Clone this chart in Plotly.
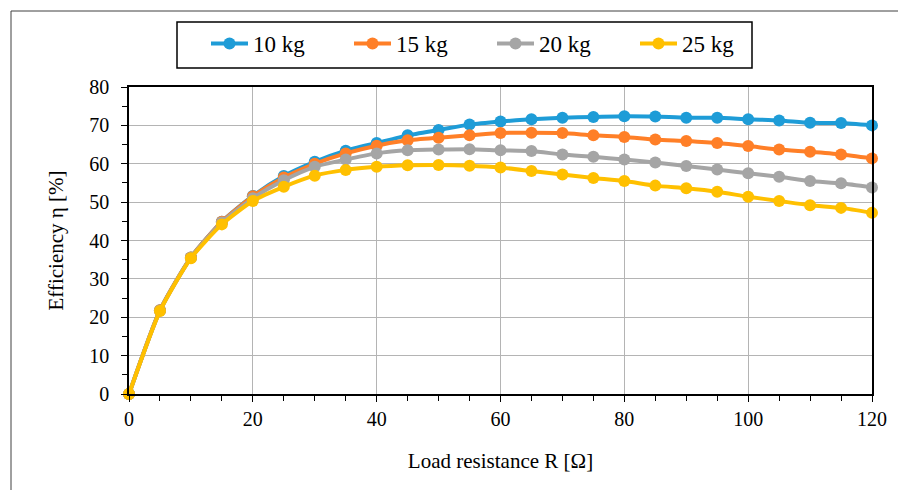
import plotly.graph_objects as go

resistance = [0, 5, 10, 15, 20, 25, 30, 35, 40, 45, 50, 55, 60, 65, 70, 75, 80, 85, 90, 95, 100, 105, 110, 115, 120]
eff_10kg = [0, 21.8, 35.6, 44.9, 51.6, 56.8, 60.5, 63.4, 65.4, 67.4, 68.8, 70.2, 71.0, 71.6, 72.0, 72.2, 72.4, 72.3, 72.0, 72.0, 71.6, 71.3, 70.7, 70.6, 70.0]
eff_15kg = [0, 21.8, 35.6, 44.9, 51.5, 56.4, 60.0, 62.7, 64.7, 66.1, 66.8, 67.4, 68.0, 68.1, 68.0, 67.4, 67.0, 66.3, 65.9, 65.4, 64.6, 63.7, 63.1, 62.4, 61.4]
eff_20kg = [0, 21.7, 35.5, 44.7, 51.0, 55.7, 59.2, 61.1, 62.7, 63.5, 63.7, 63.8, 63.5, 63.3, 62.4, 61.8, 61.1, 60.3, 59.4, 58.5, 57.5, 56.6, 55.5, 54.9, 53.8]
eff_25kg = [0, 21.6, 35.4, 44.2, 50.3, 54.0, 56.9, 58.4, 59.2, 59.6, 59.7, 59.5, 59.0, 58.1, 57.2, 56.3, 55.5, 54.3, 53.6, 52.7, 51.4, 50.3, 49.2, 48.5, 47.2]
series_names = ["10 kg", "15 kg", "20 kg", "25 kg"]
series_colors = ["#1E9CD7", "#FF7F27", "#A5A5A5", "#FFC000"]

fig = go.Figure()
for name, vals, col in zip(series_names, [eff_10kg, eff_15kg, eff_20kg, eff_25kg], series_colors):
    fig.add_trace(go.Scatter(
        x=resistance, y=vals, name=name, mode="lines+markers",
        line=dict(color=col, width=4, shape="spline", smoothing=0.6),
        marker=dict(color=col, size=12), cliponaxis=False,
    ))

OFF = 8  # page body margin
W, H = 906, 490
L, R, T, B = 129 - OFF, 42, 87 - OFF, 104
pw, ph = W - L - R, H - T - B
def px(x): return (x - OFF - L) / pw
def py(y): return (H - B - (y - OFF)) / ph

font_serif = "Liberation Serif, Times New Roman, Times, serif"
fig.update_layout(
    width=W, height=H,
    margin=dict(l=L, r=R, t=T, b=B),
    paper_bgcolor="white", plot_bgcolor="white",
    font=dict(family=font_serif, size=20, color="black"),
    showlegend=True,
    legend=dict(
        orientation="h", x=px(206), y=py(22), xanchor="left", yanchor="top",
        borderwidth=0, bgcolor="rgba(0,0,0,0)",
        font=dict(family=font_serif, size=23, color="black"),
        itemwidth=37, entrywidth=91, entrywidthmode="pixels",
    ),
    xaxis=dict(
        range=[0, 120], dtick=20, tick0=0,
        showgrid=True, gridcolor="#B4B4B4", gridwidth=1,
        showline=True, linecolor="black", linewidth=1.5, mirror=True,
        ticks="outside", ticklen=6, tickcolor="black",
        minor=dict(dtick=5, ticks="outside", ticklen=5, tickcolor="black", showgrid=False),
        zeroline=False,
        title=dict(text="Load resistance R [Ω]", font=dict(size=21), standoff=25),
        tickfont=dict(size=20),
    ),
    yaxis=dict(
        range=[0, 80], dtick=10, tick0=0,
        showgrid=True, gridcolor="#B4B4B4", gridwidth=1,
        showline=True, linecolor="black", linewidth=1.5, mirror=True,
        ticks="outside", ticklen=6, tickcolor="black", ticklabelstandoff=8,
        minor=dict(dtick=5, ticks="outside", ticklen=5, tickcolor="black", showgrid=False),
        zeroline=False,
        title=dict(text="Efficiency η [%]", font=dict(size=21), standoff=20),
        tickfont=dict(size=20),
    ),
    shapes=[
        dict(type="rect", xref="paper", yref="paper",
             x0=px(11), x1=px(930), y0=py(520), y1=py(11),
             line=dict(color="#404040", width=1), fillcolor="rgba(0,0,0,0)", layer="below"),
        dict(type="rect", xref="paper", yref="paper",
             x0=px(177), x1=px(752), y0=py(68), y1=py(22),
             line=dict(color="black", width=1.5), fillcolor="white", layer="below"),
    ],
)

fig.write_html("out.html")
